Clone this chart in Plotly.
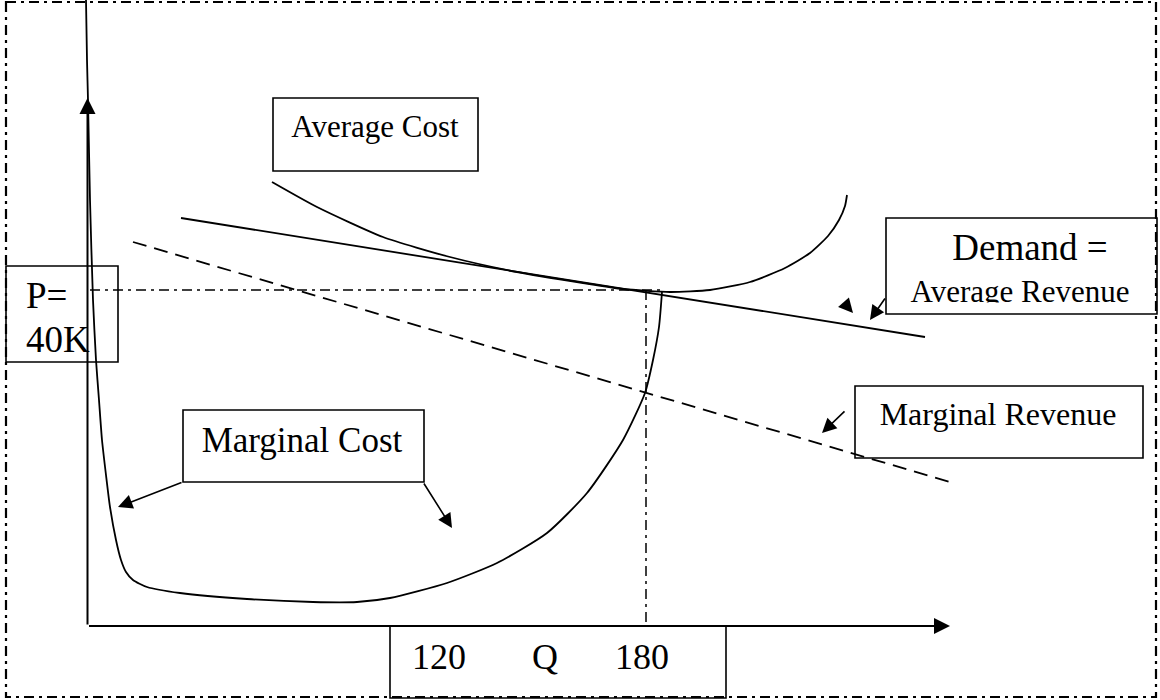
import plotly.graph_objects as go

# all values are in drawing units of the sketch (y grows downward)
mc_q = [86, 87, 88, 90, 93, 96, 99, 102, 106, 110, 116, 121, 126, 133, 147, 180,
        247, 313, 357, 390, 447, 497, 547, 587, 623, 645, 653, 659, 662]
mc_p = [0, 60, 100, 200, 300, 360, 400, 440, 475, 507, 540, 560, 572, 580, 587, 593,
        599, 602, 602, 598, 583, 563, 533, 493, 440, 393, 360, 327, 292]

ac_q = [272, 317, 383, 450, 517, 583, 623, 670, 710, 750, 785, 810, 828, 839, 845, 847]
ac_p = [182, 207, 237, 257, 272, 283, 289, 292, 290, 282, 268, 253, 236, 220, 206, 195]

demand_q = [181, 925]
demand_p = [218, 337]

mr_q = [133, 950]
mr_p = [242, 482]

price_q = [90, 662]
price_p = [290, 290]
qty_q = [646, 646]
qty_p = [290, 626]

origin = (87.5, 626)
y_tip = (87.5, 98)
x_tip = (950, 626)

# (x0, y0, x1, y1)
boxes = [
    (273, 98, 478, 171),    # average cost
    (183, 410, 424, 482),   # marginal cost
    (886, 218, 1157, 314),  # demand
    (855, 386, 1143, 458),  # marginal revenue
    (6, 266, 118, 362),     # price
    (390, 626, 726, 698),   # quantity
]

labels = [
    ("Average Cost", 375, 129, 31, "middle center"),
    ("Marginal Cost", 302, 443, 35, "middle center"),
    ("Demand =", 1030, 251, 37, "middle center"),
    ("Average Revenue", 1020, 294, 31, "middle center"),
    ("Marginal Revenue", 998, 417, 32, "middle center"),
    ("P=", 26, 299, 37, "middle right"),
    ("40K", 26, 343, 37, "middle right"),
    ("120", 439, 660, 36, "middle center"),
    ("Q", 545, 660, 36, "middle center"),
    ("180", 642, 660, 36, "middle center"),
]

# (tail x, tail y, tip x, tip y)
pointers = [
    (183, 482, 118, 507),
    (423, 482, 452, 528),
    (886, 297, 870, 320),
    (846, 305, 853, 313),
    (846, 410, 822, 433),
]

FONT = "Liberation Serif, Times New Roman, serif"
DASHDOT = "10px,5px,3px,5px"

fig = go.Figure()

fig.add_trace(go.Scatter(x=mc_q, y=mc_p, mode="lines",
                         line=dict(color="black", width=1.8, shape="spline", smoothing=0.6)))
fig.add_trace(go.Scatter(x=ac_q, y=ac_p, mode="lines",
                         line=dict(color="black", width=1.8, shape="spline", smoothing=0.6)))
fig.add_trace(go.Scatter(x=demand_q, y=demand_p, mode="lines",
                         line=dict(color="black", width=1.8)))
fig.add_trace(go.Scatter(x=mr_q, y=mr_p, mode="lines",
                         line=dict(color="black", width=1.8, dash="14px,8px")))
fig.add_trace(go.Scatter(x=price_q, y=price_p, mode="lines",
                         line=dict(color="black", width=1.5, dash=DASHDOT)))
fig.add_trace(go.Scatter(x=qty_q, y=qty_p, mode="lines",
                         line=dict(color="black", width=1.5, dash=DASHDOT)))

for txt, x, y, size, pos in labels:
    fig.add_trace(go.Scatter(x=[x], y=[y], mode="text", text=[txt], textposition=pos,
                             textfont=dict(family=FONT, size=size, color="black")))

shapes = []
# clip the text that runs out of its frame in the original
shapes.append(dict(type="rect", x0=22, x1=85.5, y0=352, y1=361, layer="above",
                   fillcolor="white", line=dict(width=0)))
shapes.append(dict(type="rect", x0=895, x1=1150, y0=302.5, y1=313, layer="above",
                   fillcolor="white", line=dict(width=0)))
for x0, y0, x1, y1 in boxes:
    shapes.append(dict(type="rect", x0=x0, y0=y0, x1=x1, y1=y1, layer="above",
                       line=dict(color="black", width=1.6)))
shapes.append(dict(type="rect", x0=6, y0=2, x1=1156, y1=697, layer="above",
                   line=dict(color="black", width=2.2, dash=DASHDOT)))

annotations = []
for (tx, ty) in (y_tip, x_tip):
    annotations.append(dict(x=tx, y=ty, ax=origin[0], ay=origin[1], xref="x", yref="y",
                            axref="x", ayref="y", text="", showarrow=True,
                            arrowhead=2, arrowsize=1.6, arrowwidth=2, arrowcolor="black",
                            standoff=0))
for x0, y0, x1, y1 in pointers:
    annotations.append(dict(x=x1, y=y1, ax=x0, ay=y0, xref="x", yref="y",
                            axref="x", ayref="y", text="", showarrow=True,
                            arrowhead=2, arrowsize=1.8, arrowwidth=1.6, arrowcolor="black",
                            standoff=0))

fig.update_layout(
    width=1160, height=700,
    margin=dict(l=0, r=0, t=0, b=0),
    paper_bgcolor="white", plot_bgcolor="white",
    showlegend=False,
    xaxis=dict(range=[0, 1160], visible=False, fixedrange=True),
    yaxis=dict(range=[700, 0], visible=False, fixedrange=True),
    shapes=shapes,
    annotations=annotations,
)

fig.write_html("out.html", config={"displayModeBar": False},
               post_script="document.body.style.margin='0';document.body.style.overflow='hidden';")
